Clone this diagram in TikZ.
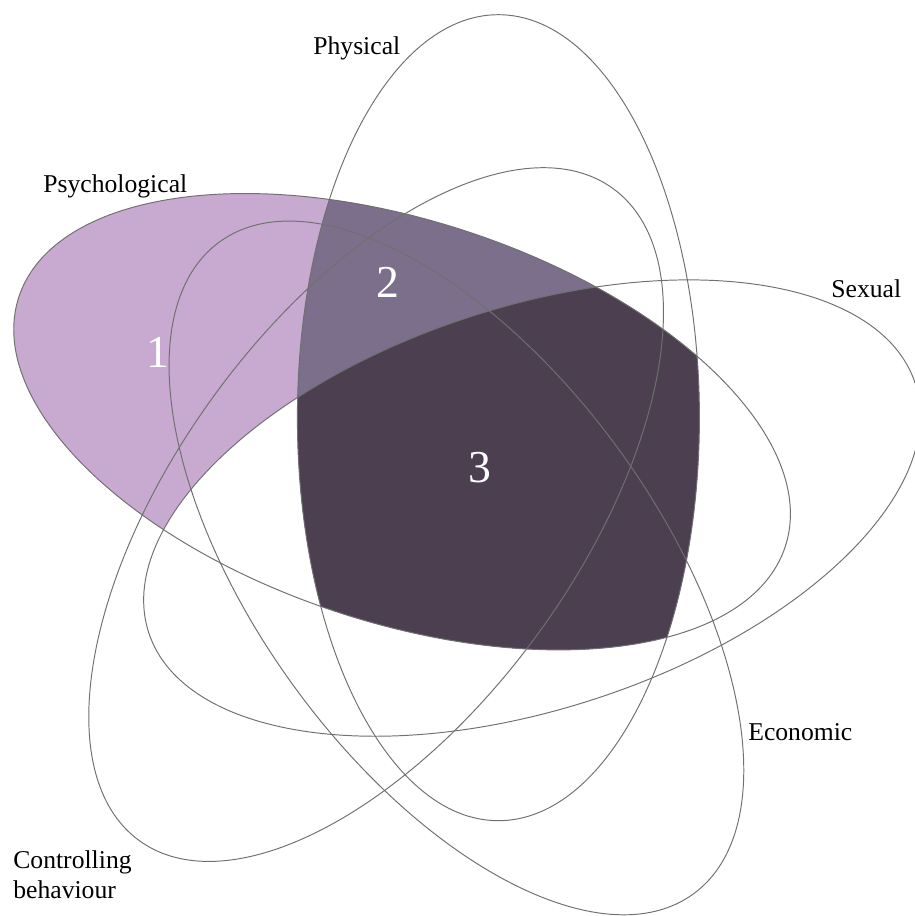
\documentclass[tikz,border=0pt]{standalone}
\usepackage{fontspec}
\setmainfont{Liberation Serif}
\definecolor{regA}{HTML}{C8A9D0}
\definecolor{regB}{HTML}{7B6F8C}
\definecolor{regC}{HTML}{4B3F50}
\definecolor{edgegray}{HTML}{707070}
\begin{document}
\begin{tikzpicture}[x=0.02cm,y=0.02cm,
  ell0/.style={rotate around={0:(453,430)}},
  ell1/.style={rotate around={72:(453,430)}},
  ell2/.style={rotate around={144:(453,430)}},
  ell3/.style={rotate around={216:(453,430)}},
  ell4/.style={rotate around={288:(453,430)}},
  outline/.style={draw=edgegray,line width=0.55pt},
  setlabel/.style={font=\fontsize{14.6}{17.5}\selectfont,inner sep=0pt},
  regionlabel/.style={font=\fontsize{26}{30}\selectfont,text=white,anchor=base,inner sep=0pt}]
\useasboundingbox (0,0) rectangle (915,916);
\clip (0,0) rectangle (915,916);
% region fills
\fill[regA,ell1] (498.4,498.3) ellipse [x radius=201,y radius=403];
\begin{scope}
  \clip[ell1] (498.4,498.3) ellipse [x radius=201,y radius=403];
  \fill[white,ell4] (498.4,498.3) ellipse [x radius=201,y radius=403];
  \fill[regB,ell0] (498.4,498.3) ellipse [x radius=201,y radius=403];
  \clip[ell0] (498.4,498.3) ellipse [x radius=201,y radius=403];
  \fill[regC,ell4] (498.4,498.3) ellipse [x radius=201,y radius=403];
\end{scope}
% outlines: Physical, Psychological, Controlling behaviour, Economic, Sexual
\draw[outline,ell0] (498.4,498.3) ellipse [x radius=201,y radius=403];
\draw[outline,ell1] (498.4,498.3) ellipse [x radius=201,y radius=403];
\draw[outline,ell2] (498.4,498.3) ellipse [x radius=201,y radius=403];
\draw[outline,ell3] (498.4,498.3) ellipse [x radius=201,y radius=403];
\draw[outline,ell4] (498.4,498.3) ellipse [x radius=201,y radius=403];
% labels
\node[setlabel,anchor=base west] (physical) at (313,861) {Physical};
\node[setlabel,anchor=base west] (psychological) at (43,723) {Psychological};
\node[setlabel,anchor=base west] (sexual) at (831,618) {Sexual};
\node[setlabel,anchor=base west] (economic) at (748,175) {Economic};
\node[setlabel,anchor=north west,align=left] (controlling) at (13,66) {Controlling\\behaviour};
\node[regionlabel] (one) at (158,548) {1};
\node[regionlabel] (two) at (388,618) {2};
\node[regionlabel] (three) at (480,433) {3};
\end{tikzpicture}
\end{document}
